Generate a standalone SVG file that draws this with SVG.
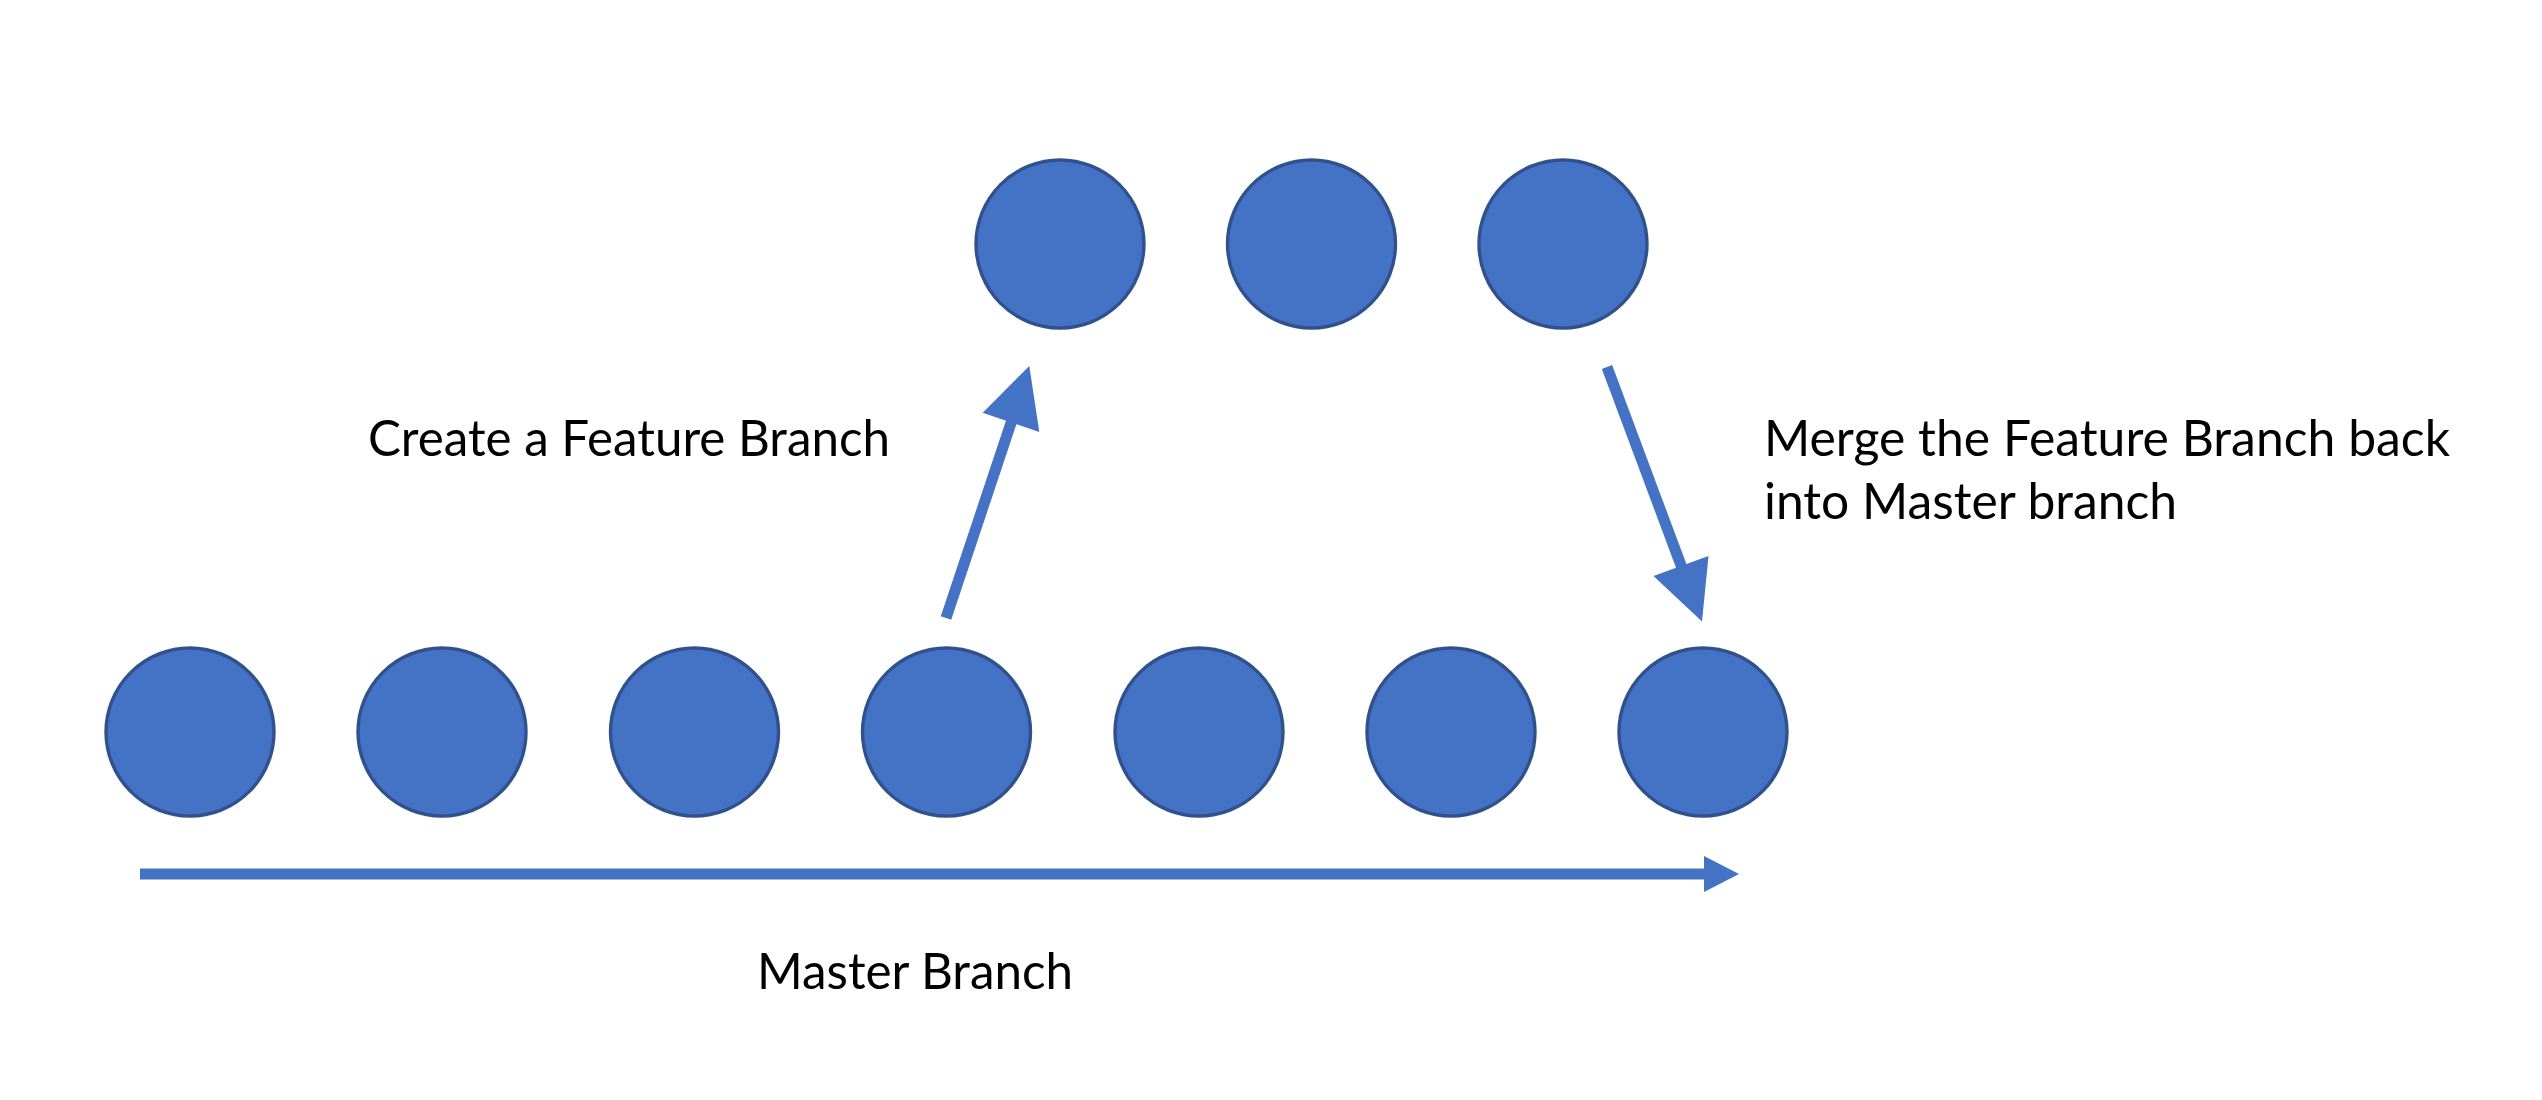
<svg xmlns="http://www.w3.org/2000/svg" width="2542" height="1100" viewBox="0 0 2542 1100">
  <style>
    .commit { fill: #4472C4; stroke: #2F528F; stroke-width: 3.4; }
    .conn { stroke: #4472C4; stroke-width: 11; fill: none; }
    .head { fill: #4472C4; }
    .label { font-family: "Lato", "Liberation Sans", sans-serif; font-size: 50px; fill: #000000; }
  </style>
  <rect x="0" y="0" width="2542" height="1100" fill="#FFFFFF"/>

  <g id="master-commits">
    <g id="m1"><circle class="commit" cx="190" cy="732" r="84"/></g>
    <g id="m2"><circle class="commit" cx="442" cy="732" r="84"/></g>
    <g id="m3"><circle class="commit" cx="694.5" cy="732" r="84"/></g>
    <g id="m4"><circle class="commit" cx="946.5" cy="732" r="84"/></g>
    <g id="m5"><circle class="commit" cx="1199" cy="732" r="84"/></g>
    <g id="m6"><circle class="commit" cx="1451" cy="732" r="84"/></g>
    <g id="m7"><circle class="commit" cx="1703" cy="732" r="84"/></g>
  </g>

  <g id="feature-commits">
    <g id="f1"><circle class="commit" cx="1060" cy="244" r="84"/></g>
    <g id="f2"><circle class="commit" cx="1311.5" cy="244" r="84"/></g>
    <g id="f3"><circle class="commit" cx="1563" cy="244" r="84"/></g>
  </g>

  <g id="connectors">
    <g id="master-arrow">
      <line class="conn" x1="140" y1="874" x2="1705" y2="874"/>
      <polygon class="head" points="1704,856 1739,874 1704,892"/>
    </g>
    <g id="create-arrow">
      <line class="conn" x1="946" y1="618" x2="1012" y2="420"/>
      <polygon class="head" points="982.7,412.7 1029.3,366 1039.3,432"/>
    </g>
    <g id="merge-arrow">
      <line class="conn" x1="1607" y1="367" x2="1682" y2="568"/>
      <polygon class="head" points="1653.5,576 1702,621.5 1708.5,556"/>
    </g>
  </g>

  <g id="labels">
    <text class="label" x="368" y="456" textLength="522" lengthAdjust="spacingAndGlyphs">Create a Feature Branch</text>
    <text class="label" x="1764" y="456" textLength="686" lengthAdjust="spacingAndGlyphs">Merge the Feature Branch back</text>
    <text class="label" x="1764" y="519" textLength="413" lengthAdjust="spacingAndGlyphs">into Master branch</text>
    <text class="label" x="757" y="989" textLength="316" lengthAdjust="spacingAndGlyphs">Master Branch</text>
  </g>
</svg>
